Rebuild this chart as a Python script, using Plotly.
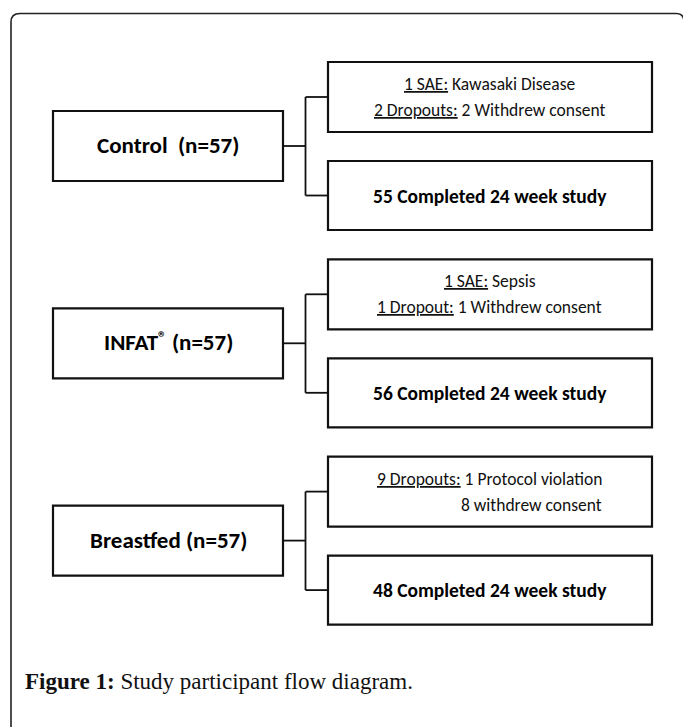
import plotly.graph_objects as go

# ---- data ----
groups = ["Control", "INFAT<span style='font-size:17px;baseline-shift:35%'>®</span>", "Breastfed"]
group_sep = ["\u00a0\u00a0", " ", " "]
n_enrolled = [57, 57, 57]
completed = [55, 56, 48]
event_line1 = ["<u>1 SAE:</u> Kawasaki Disease",
               "<u>1 SAE:</u> Sepsis",
               "<u>9 Dropouts:</u> 1 Protocol violation"]
event_line2 = ["<u>2 Dropouts:</u> 2 Withdrew consent",
               "<u>1 Dropout:</u> 1 Withdrew consent",
               "8 withdrew consent"]
line2_align = ["center", "center", "right"]
caption_bold = "Figure 1:"
caption_text = "Study participant flow diagram."

# ---- layout geometry ----
W, H = 683, 727
row_top0 = 111.0
row_pitch = 197.3
lx0, lx1 = 53, 283
jx = 305.5
rx0, rx1 = 328, 652
box_col = "#111111"
sans = "Carlito, Lato, sans-serif"

fig = go.Figure()
shapes = []
annotations = []

# outer frame (rounded top corners, open / cropped at bottom and right)
shapes.append(dict(type="path", xref="x", yref="y",
                   path="M 11,760 L 11,22 Q 11,13.5 20,13.5 L 676,13.5 Q 684,13.5 684,22 L 684,760",
                   line=dict(color="#222222", width=1.6)))

for i, g in enumerate(groups):
    t = row_top0 + i * row_pitch
    lc = t + 35            # left box centre
    ut0, ut1 = t - 49, t + 21   # upper right box
    bt0, bt1 = t + 50, t + 119  # lower right box
    uc = (ut0 + ut1) / 2
    bc = (bt0 + bt1) / 2
    # boxes
    for (x0, y0, x1, y1) in [(lx0, t, lx1, t + 70), (rx0, ut0, rx1, ut1), (rx0, bt0, rx1, bt1)]:
        shapes.append(dict(type="rect", xref="x", yref="y", x0=x0, y0=y0, x1=x1, y1=y1,
                           line=dict(color=box_col, width=2.2), fillcolor="rgba(0,0,0,0)"))
    # connectors
    for (x0, y0, x1, y1) in [(lx1, lc, jx, lc), (jx, uc, jx, bc), (jx, uc, rx0, uc), (jx, bc, rx0, bc)]:
        shapes.append(dict(type="line", xref="x", yref="y", x0=x0, y0=y0, x1=x1, y1=y1,
                           line=dict(color=box_col, width=1.8)))
    # texts
    annotations.append(dict(x=(lx0 + lx1) / 2, y=lc - 1, xref="x", yref="y",
                            text=f"<b>{g}{group_sep[i]}(n={n_enrolled[i]})</b>",
                            showarrow=False, font=dict(family=sans, size=23, color="#000")))
    annotations.append(dict(x=490, y=bc, xref="x", yref="y",
                            text=f"<b>{completed[i]} Completed 24 week study</b>",
                            showarrow=False, font=dict(family=sans, size=19.5, color="#000")))
    if line2_align[i] == "center":
        annotations.append(dict(x=490, y=uc - 13, xref="x", yref="y", text=event_line1[i],
                                showarrow=False, font=dict(family=sans, size=17.5, color="#111")))
        annotations.append(dict(x=489, y=uc + 13, xref="x", yref="y", text=event_line2[i],
                                showarrow=False, font=dict(family=sans, size=17.5, color="#111")))
    else:
        annotations.append(dict(x=603.5, y=uc - 13, xref="x", yref="y", text=event_line1[i],
                                xanchor="right", showarrow=False,
                                font=dict(family=sans, size=17.5, color="#111")))
        annotations.append(dict(x=603.5, y=uc + 13, xref="x", yref="y", text=event_line2[i],
                                xanchor="right", showarrow=False,
                                font=dict(family=sans, size=17.5, color="#111")))

annotations.append(dict(x=23, y=681, xref="x", yref="y", xanchor="left",
                        text=f"<b>{caption_bold}</b> {caption_text}", showarrow=False,
                        font=dict(family="Liberation Serif, serif", size=23, color="#111")))

fig.update_layout(
    width=W, height=H, margin=dict(l=0, r=0, t=0, b=0),
    paper_bgcolor="white", plot_bgcolor="white",
    xaxis=dict(range=[0, W], visible=False, fixedrange=True),
    yaxis=dict(range=[H, 0], visible=False, fixedrange=True),
    shapes=shapes, annotations=annotations, showlegend=False,
)
fig.write_html("out.html", config={"displayModeBar": False},
               post_script="document.body.style.margin='0px';")
